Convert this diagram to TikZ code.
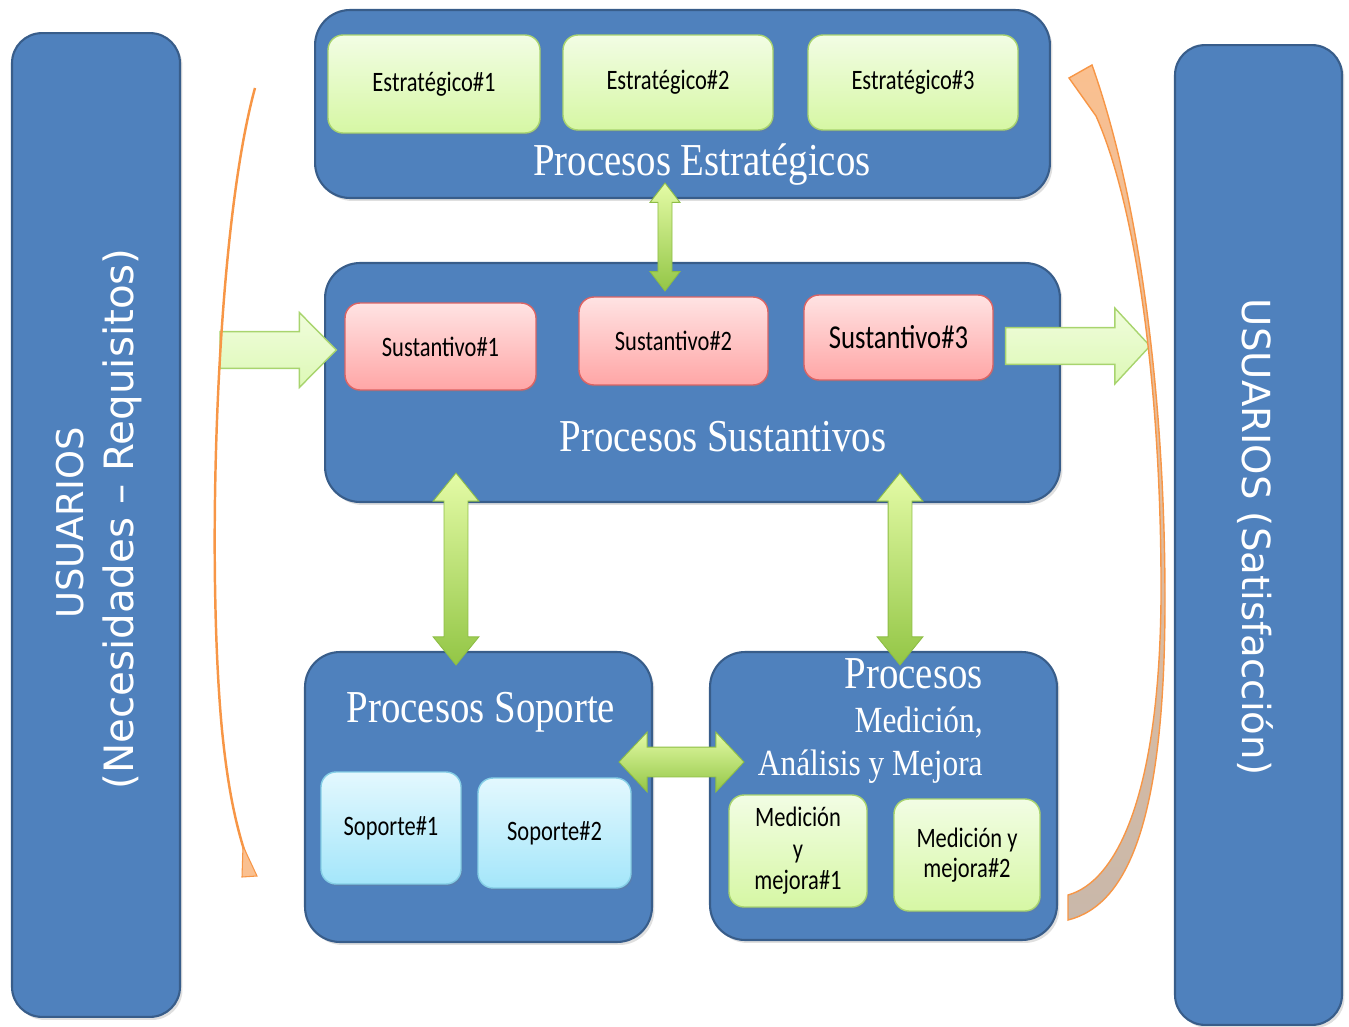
\documentclass[tikz,border=0pt]{standalone}
\usepackage{fontspec}
\usepackage{tikz}
\usetikzlibrary{calc}
\usetikzlibrary{shadows}
\newfontfamily\titlefont[FakeStretch=0.85]{Liberation Serif}
\newfontfamily\boxfont[FakeStretch=0.8]{Carlito}
\newfontfamily\userfont{DejaVu Sans}

\definecolor{procblue}{HTML}{4F81BD}
\definecolor{procedge}{HTML}{385D8A}
\definecolor{esttop}{HTML}{F2FDE4}
\definecolor{estbot}{HTML}{D6F7A4}
\definecolor{estedge}{HTML}{A9D46F}
\definecolor{sustop}{HTML}{FFE3E3}
\definecolor{susbot}{HTML}{FFA6A6}
\definecolor{susedge}{HTML}{DC6464}
\definecolor{soptop}{HTML}{E3F8FE}
\definecolor{sopbot}{HTML}{A4E6FA}
\definecolor{sopedge}{HTML}{86CFE6}
\definecolor{arrtop}{HTML}{E4FBA6}
\definecolor{arrbot}{HTML}{93C646}
\definecolor{arredge}{HTML}{8DBD45}
\definecolor{blocktop}{HTML}{F0FDDC}
\definecolor{blockbot}{HTML}{DDF8B6}
\definecolor{blockedge}{HTML}{A8D46E}
\definecolor{orgfill}{HTML}{FAC090}
\definecolor{orgdark}{HTML}{C9B8AA}
\definecolor{orgedge}{HTML}{F79646}

\tikzstyle{proc} = [rectangle, rounded corners=0.7cm, fill=procblue, draw=procedge, line width=1.2pt,
  drop shadow={opacity=0.25, shadow xshift=0.05cm, shadow yshift=-0.06cm}]
\tikzstyle{upanel} = [proc, rounded corners=0.6cm]
\tikzstyle{pbox} = [rectangle, rounded corners=0.3cm, line width=0.8pt, align=center,
  font=\boxfont\fontsize{16}{18}\selectfont,
  drop shadow={opacity=0.2, shadow xshift=0.03cm, shadow yshift=-0.04cm}]
\tikzstyle{estbox} = [pbox, draw=estedge, top color=esttop, bottom color=estbot]
\tikzstyle{susbox} = [pbox, draw=susedge, top color=sustop, bottom color=susbot]
\tikzstyle{sopbox} = [pbox, draw=sopedge, top color=soptop, bottom color=sopbot]
\tikzstyle{ptitle} = [text=white, anchor=base, inner sep=0, font=\titlefont\fontsize{26}{30}\selectfont]
\tikzstyle{utext} = [text=white, inner sep=0]
\tikzstyle{greenarr} = [draw=arredge, line width=0.5pt, top color=arrtop, bottom color=arrbot]
\tikzstyle{blockarr} = [draw=blockedge, line width=0.8pt, top color=blocktop, bottom color=blockbot]

% double arrows: shaft half width, head half width, head length
\tikzset{
  vdbl/.style n args={3}{to path={let \p1=(\tikztostart), \p2=(\tikztotarget) in
    (\x1,\y1) -- (\x1+#2,\y1-#3) -- (\x1+#1,\y1-#3) -- (\x1+#1,\y2+#3) -- (\x1+#2,\y2+#3)
    -- (\x1,\y2) -- (\x1-#2,\y2+#3) -- (\x1-#1,\y2+#3) -- (\x1-#1,\y1-#3) -- (\x1-#2,\y1-#3) -- cycle}},
  hdbl/.style n args={3}{to path={let \p1=(\tikztostart), \p2=(\tikztotarget) in
    (\x1,\y1) -- (\x1+#3,\y1+#2) -- (\x1+#3,\y1+#1) -- (\x2-#3,\y1+#1) -- (\x2-#3,\y1+#2)
    -- (\x2,\y1) -- (\x2-#3,\y1-#2) -- (\x2-#3,\y1-#1) -- (\x1+#3,\y1-#1) -- (\x1+#3,\y1-#2) -- cycle}},
  hsgl/.style n args={3}{to path={let \p1=(\tikztostart), \p2=(\tikztotarget) in
    (\x1,\y1+#1) -- (\x2-#3,\y1+#1) -- (\x2-#3,\y1+#2) -- (\x2,\y1)
    -- (\x2-#3,\y1-#2) -- (\x2-#3,\y1-#1) -- (\x1,\y1-#1) -- cycle}},
}

\begin{document}
\begin{tikzpicture}[x=0.02cm, y=-0.02cm]
\useasboundingbox (0,0) rectangle (1349,1027);

% users on both sides
\node [upanel, minimum width=3.36cm, minimum height=19.68cm] (usrL) at (96,525) {};
\node [upanel, minimum width=3.34cm, minimum height=19.6cm] (usrR) at (1258.5,535) {};
\node [utext, rotate=90, font=\userfont\fontsize{21}{25}\selectfont] (usrLa) at (70,523) {USUARIOS};
\node [utext, rotate=90, font=\userfont\fontsize{23}{27}\selectfont] (usrLb) at (122,519) {(Necesidades – Requisitos)};
\node [utext, rotate=-90, font=\userfont\fontsize{22}{26}\selectfont] (usrRa) at (1255,537) {USUARIOS (Satisfacción)};

% strategic processes
\node [proc, minimum width=14.7cm, minimum height=3.76cm] (est) at (682.5,104) {};
\node [estbox, minimum width=4.24cm, minimum height=1.96cm] (e1) at (434,84) {Estratégico\#1};
\node [estbox, minimum width=4.2cm, minimum height=1.9cm] (e2) at (668,82.5) {Estratégico\#2};
\node [estbox, minimum width=4.2cm, minimum height=1.9cm] (e3) at (913,82.5) {Estratégico\#3};
\node [ptitle] (estT) at (702,176) {Procesos Estratégicos};

% core processes
\node [proc, minimum width=14.7cm, minimum height=4.78cm] (sus) at (692.5,382.5) {};
\node [susbox, minimum width=3.82cm, minimum height=1.74cm] (s1) at (440.5,346.5) {Sustantivo\#1};
\node [susbox, minimum width=3.78cm, minimum height=1.76cm] (s2) at (673.5,341) {Sustantivo\#2};
\node [susbox, minimum width=3.78cm, minimum height=1.7cm, font=\boxfont\fontsize{19}{21}\selectfont] (s3) at (898.5,337.5) {Sustantivo\#3};
\node [ptitle] (susT) at (723,451) {Procesos Sustantivos};

% support processes
\node [proc, minimum width=6.94cm, minimum height=5.8cm] (sop) at (478.5,797) {};
\node [sopbox, minimum width=2.8cm, minimum height=2.24cm] (p1) at (391,828) {Soporte\#1};
\node [sopbox, minimum width=3.06cm, minimum height=2.2cm] (p2) at (554.5,833) {Soporte\#2};
\node [ptitle] (sopT) at (481,722) {Procesos Soporte};

% measurement processes
\node [proc, minimum width=6.94cm, minimum height=5.76cm] (med) at (883.5,796) {};
\node [estbox, minimum width=2.76cm, minimum height=2.24cm] (m1) at (798,851) {Medición\\y\\mejora\#1};
\node [estbox, minimum width=2.92cm, minimum height=2.24cm, font=\boxfont\fontsize{16}{17}\selectfont] (m2) at (967,855) {Medición y\\mejora\#2};
\node [ptitle, anchor=base east] (medT) at (983,688) {Procesos};
\node [ptitle, anchor=base east, font=\titlefont\fontsize{21}{25}\selectfont] (medTb) at (983,732) {Medición,};
\node [ptitle, anchor=base east, font=\titlefont\fontsize{21}{25}\selectfont] (medTc) at (983,775) {Análisis y Mejora};

% links between the process groups
\draw [greenarr, vdbl={4pt}{8.5pt}{11pt}] ($(est.south)+(-17.5,-16)$) to ($(sus.north)+(-27.5,29)$);
\draw [greenarr, vdbl={6.8pt}{13pt}{16pt}] ($(sop.north |- sus.south)+(-22.5,-30)$) to ($(sop.north)+(-22.5,14)$);
\draw [greenarr, vdbl={6.8pt}{13pt}{16pt}] ($(med.north |- sus.south)+(16.5,-30)$) to ($(med.north)+(16.5,14)$);
\draw [greenarr, hdbl={8.5pt}{17pt}{16pt}] ($(sop.east)+(-34,-35)$) to ($(med.west)+(35,-34)$);

% input and output
\coordinate (inL) at (220,350);
\coordinate (outR) at (1150,346);
\draw [blockarr, hsgl={10.5pt}{21.3pt}{21pt}] (inL) to ($(inL -| s1.west)+(-8,0)$);
\draw [blockarr, hsgl={10.5pt}{21.6pt}{20pt}] ($(outR -| s3.east)+(12,0)$) to (outR);

% cycle arrows
\draw [orgedge, line width=1.4pt] (255,88) .. controls (216,230) and (206,560) .. (222,730)
  .. controls (228,790) and (236,825) .. (246,856);
\fill [orgfill, draw=orgedge, line width=0.6pt] (243,846) -- (242,877) -- (257,876) -- cycle;
\draw [orgedge, line width=0.8pt, top color=orgfill, bottom color=orgdark]
  (1068,920) .. controls (1128,905) and (1165,820) .. (1165,600)
  .. controls (1165,400) and (1140,200) .. (1092,65) -- (1069,78) -- (1096,116)
  .. controls (1140,215) and (1162,410) .. (1161,600)
  .. controls (1159,800) and (1115,882) .. (1068,895) -- cycle;
\end{tikzpicture}
\end{document}
